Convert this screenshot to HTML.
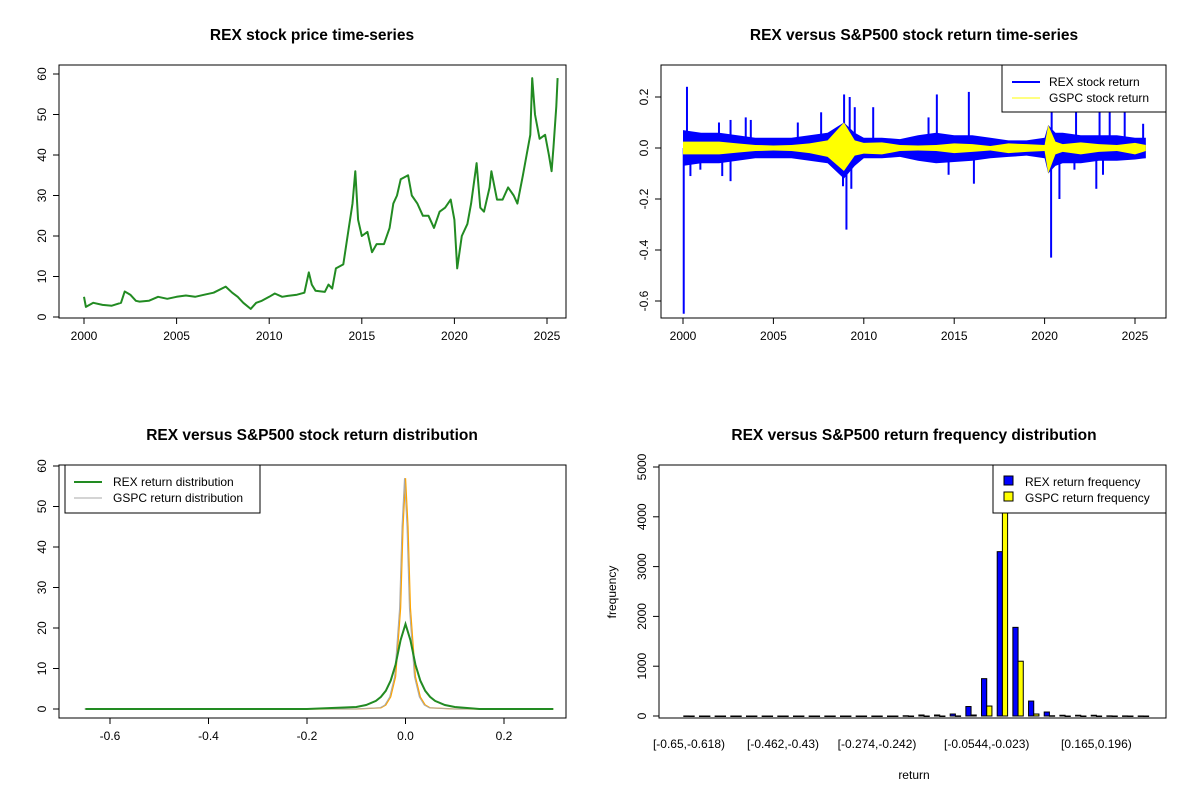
<!DOCTYPE html>
<html><head><meta charset="utf-8"><style>
body{margin:0;background:#fff;}
svg{font-family:"Liberation Sans",Arial,sans-serif;}
.t{font-weight:bold;font-size:15.5px;text-anchor:middle;}
.k{font-size:12px;}
</style></head><body>
<svg id="s" width="1200" height="800" viewBox="0 0 1200 800"></svg>
<script>
// ---- data ----
const priceYears=[2000,2000.1,2000.5,2001,2001.5,2002,2002.2,2002.5,2002.8,2003,2003.5,2004,2004.5,2005,2005.5,2006,2006.5,2007,2007.65,2008,2008.3,2008.6,2009,2009.3,2009.6,2010,2010.3,2010.7,2011,2011.5,2011.9,2012.14,2012.3,2012.5,2013,2013.2,2013.4,2013.6,2014,2014.3,2014.5,2014.65,2014.8,2015,2015.3,2015.55,2015.8,2016.2,2016.5,2016.7,2016.9,2017.1,2017.5,2017.7,2018,2018.3,2018.6,2018.9,2019.2,2019.5,2019.8,2020,2020.15,2020.4,2020.7,2020.9,2021.2,2021.4,2021.6,2021.9,2022,2022.3,2022.6,2022.9,2023.2,2023.4,2023.7,2023.9,2024.1,2024.2,2024.35,2024.6,2024.9,2025.1,2025.25,2025.35,2025.5,2025.57];
const priceValues=[5,2.5,3.5,3,2.8,3.5,6.3,5.5,4,3.8,4,5,4.5,5,5.3,5,5.5,6,7.5,6,5,3.5,2,3.5,4,5,5.8,5,5.2,5.5,6,11,8,6.5,6.2,8,7,12,13,22,28,36,24,20,21,16,18,18,22,28,30,34,35,30,28,25,25,22,26,27,29,24,12,20,23,28,38,27,26,32,36,29,29,32,30,28,35,40,45,59,50,44,45,40,36,42,52,59];
const retYears=[2000,2001,2002,2003,2004,2005,2006,2007,2008,2008.9,2009.5,2010,2011,2012,2013,2014,2015,2016,2017,2018,2019,2020,2020.2,2020.6,2021,2022,2023,2024,2025,2025.6];
const rexHi=[0.07,0.06,0.06,0.05,0.04,0.04,0.04,0.05,0.06,0.1,0.06,0.04,0.04,0.035,0.05,0.06,0.05,0.05,0.04,0.03,0.03,0.04,0.09,0.06,0.06,0.05,0.05,0.05,0.04,0.04];
const rexLo=[-0.07,-0.06,-0.06,-0.05,-0.04,-0.04,-0.04,-0.05,-0.06,-0.12,-0.07,-0.04,-0.04,-0.035,-0.05,-0.06,-0.055,-0.05,-0.04,-0.035,-0.03,-0.04,-0.1,-0.07,-0.06,-0.06,-0.05,-0.05,-0.045,-0.04];
const gspcHi=[0.025,0.025,0.025,0.018,0.012,0.01,0.012,0.018,0.03,0.1,0.03,0.02,0.022,0.012,0.01,0.012,0.018,0.015,0.008,0.018,0.015,0.012,0.09,0.025,0.015,0.022,0.015,0.012,0.02,0.012];
const gspcLo=[-0.025,-0.025,-0.025,-0.018,-0.012,-0.01,-0.012,-0.02,-0.035,-0.09,-0.03,-0.022,-0.025,-0.012,-0.01,-0.012,-0.02,-0.015,-0.01,-0.02,-0.015,-0.012,-0.1,-0.025,-0.015,-0.025,-0.015,-0.012,-0.025,-0.012];
const spikeYears=[2000.22,2001.99,2002.63,2003.47,2003.75,2006.35,2007.64,2008.91,2009.22,2009.5,2010.52,2013.58,2014.04,2015.81,2020.39,2021.74,2023.04,2023.6,2024.43,2025.45,2000.04,2000.41,2000.96,2002.17,2002.63,2008.85,2009.04,2009.31,2014.69,2016.09,2020.36,2020.82,2021.65,2022.86,2023.23];
const spikeValues=[0.24,0.1,0.11,0.12,0.11,0.1,0.14,0.21,0.2,0.16,0.16,0.12,0.21,0.22,0.19,0.14,0.14,0.14,0.18,0.095,-0.65,-0.11,-0.085,-0.11,-0.13,-0.15,-0.32,-0.16,-0.105,-0.14,-0.43,-0.2,-0.085,-0.16,-0.105];
const denX=[-0.65,-0.2,-0.1,-0.08,-0.06,-0.05,-0.04,-0.03,-0.02,-0.01,0,0.01,0.02,0.03,0.04,0.05,0.06,0.08,0.1,0.15,0.3];
const rexDen=[0,0,0.5,1,2,3,4.5,7,11,17,21,17,11,7,4.5,3,2,1,0.5,0,0];
const gDenX=[-0.65,-0.1,-0.05,-0.04,-0.03,-0.02,-0.01,-0.005,0,0.005,0.01,0.02,0.03,0.04,0.05,0.1,0.3];
const gspcDen=[0,0,0.3,1,3,8,25,45,57,45,25,8,3,1,0.3,0,0];
const rexFreq=[1,0,0,0,0,0,0,0,0,0,0,0,0,0,5,20,20,40,190,750,3300,1780,300,80,15,15,15,3,2,1];
const gspcFreq=[0,0,0,0,0,0,0,0,0,0,0,0,0,0,0,0,0,2,20,200,4700,1100,40,5,0,0,0,0,0,0];
const binLabelIdx=[0,6,12,19,26];
const binLabels=["[-0.65,-0.618)","[-0.462,-0.43)","[-0.274,-0.242)","[-0.0544,-0.023)","[0.165,0.196)"];
const yearTicks=[2000,2005,2010,2015,2020,2025];

// ---- helpers ----
const S=document.getElementById('s');const NS='http://www.w3.org/2000/svg';
function el(tag,a,txt){const e=document.createElementNS(NS,tag);for(const k in a)e.setAttribute(k,a[k]);if(txt!==undefined)e.textContent=txt;S.appendChild(e);return e;}
function box(L,T,R,B,name){const e=el('rect',{x:L,y:T,width:R-L,height:B-T,fill:'none',stroke:'#000','stroke-width':1});}
function xTicks(vals,fx,B,labels,name){vals.forEach((v,i)=>{const x=fx(v);const l=el('line',{x1:x,x2:x,y1:B,y2:B+6,stroke:'#000'});const t=el('text',{x:x,y:B+22,'text-anchor':'middle',class:'k'},labels?labels[i]:v);});
 el('line',{x1:fx(vals[0]),x2:fx(vals[vals.length-1]),y1:B,y2:B,stroke:'#000'});}
function yTicks(vals,fy,L,labels,name){vals.forEach((v,i)=>{const y=fy(v);const l=el('line',{x1:L-6,x2:L,y1:y,y2:y,stroke:'#000'});const t=el('text',{x:L-13,y:y,'text-anchor':'middle',class:'k',transform:`rotate(-90 ${L-13} ${y})`},labels?labels[i]:v);});
 el('line',{x1:L,x2:L,y1:fy(vals[0]),y2:fy(vals[vals.length-1]),stroke:'#000'});}
function title(x,y,s,name){const t=el('text',{x:x,y:y,class:'t'},s);}
function path(xs,ys,fx,fy,attrs,name){const d=xs.map((v,i)=>(i?'L':'M')+fx(v).toFixed(1)+','+fy(ys[i]).toFixed(1)).join('');const p=el('path',Object.assign({d:d,fill:'none'},attrs));return p;}

// ---- panel 1: price ----
{const fx=y=>84+(y-2000)*18.52, fy=v=>317-v*4.05;
title(312,40,'REX stock price time-series','price-chart-title');
path(priceYears,priceValues,fx,fy,{stroke:'#228B22','stroke-width':2,'stroke-linejoin':'round'},'price-line');
box(59,65,566,318,'price-plot-box');
xTicks(yearTicks,fx,318,null,'price-x');
yTicks([0,10,20,30,40,50,60],fy,59,null,'price-y');}

// ---- panel 2: returns ----
{const fx=y=>683+(y-2000)*18.08, fy=v=>148-v*255;
title(914,40,'REX versus S&P500 stock return time-series','return-chart-title');
function band(hi,lo,col,name){const up=retYears.map((y,i)=>fx(y)+','+fy(hi[i])).join(' ');const dn=retYears.map((y,i)=>fx(y)+','+fy(lo[i])).reverse().join(' ');const p=el('polygon',{points:up+' '+dn,fill:col});}
band(rexHi,rexLo,'#0000ff','rex-return-band');
spikeYears.forEach((y,i)=>{const l=el('line',{x1:fx(y),x2:fx(y),y1:fy(0),y2:fy(spikeValues[i]),stroke:'#0000ff','stroke-width':2});});
band(gspcHi,gspcLo,'#ffff00','gspc-return-band');
box(661,65,1166,318,'return-plot-box');
xTicks(yearTicks,fx,318,null,'return-x');
yTicks([-0.6,-0.4,-0.2,0,0.2],fy,661,['-0.6','-0.4','-0.2','0.0','0.2'],'return-y');
const lg=el('rect',{x:1002,y:65,width:164,height:47,fill:'#fff',stroke:'#000'});
el('line',{x1:1012,x2:1040,y1:82,y2:82,stroke:'#0000ff','stroke-width':2});
el('line',{x1:1012,x2:1040,y1:98,y2:98,stroke:'#ffff00','stroke-width':1});
const a=el('text',{x:1049,y:86,class:'k'},'REX stock return');
const b=el('text',{x:1049,y:102,class:'k'},'GSPC stock return');}

// ---- panel 3: density ----
{const fx=v=>405.5+v*492.5, fy=v=>709-v*4.05;
title(312,440,'REX versus S&P500 stock return distribution','density-chart-title');
path(gDenX,gspcDen,fx,fy,{stroke:'#ffa500','stroke-width':1.3},'gspc-density-orange');
path(gDenX,gspcDen,v=>fx(v)-1,fy,{stroke:'#aaaaaa','stroke-width':1},'gspc-density-grey');
path(denX,rexDen,fx,fy,{stroke:'#228B22','stroke-width':2},'rex-density');
box(59,465,566,718,'density-plot-box');
xTicks([-0.6,-0.4,-0.2,0,0.2],fx,718,['-0.6','-0.4','-0.2','0.0','0.2'],'density-x');
yTicks([0,10,20,30,40,50,60],fy,59,null,'density-y');
const lg=el('rect',{x:65,y:465,width:195,height:48,fill:'#fff',stroke:'#000'});
el('line',{x1:74,x2:102,y1:482,y2:482,stroke:'#228B22','stroke-width':2});
el('line',{x1:74,x2:102,y1:498,y2:498,stroke:'#aaaaaa','stroke-width':1});
const a=el('text',{x:113,y:486,class:'k'},'REX return distribution');
const b=el('text',{x:113,y:502,class:'k'},'GSPC return distribution');}

// ---- panel 4: histogram ----
{const fy=v=>716-v*0.0498, cx=k=>689+k*15.67, bw=5.2;
title(914,440,'REX versus S&P500 return frequency distribution','frequency-chart-title');
rexFreq.forEach((v,k)=>{const r=el('rect',{x:cx(k)-bw,y:fy(v),width:bw,height:Math.max(0.5,fy(0)-fy(v)),fill:'#0000ff',stroke:'#000','stroke-width':1});});
gspcFreq.forEach((v,k)=>{const r=el('rect',{x:cx(k),y:fy(v),width:bw,height:Math.max(0.5,fy(0)-fy(v)),fill:'#ffff00',stroke:'#000','stroke-width':1});});
box(659,465,1166,718,'frequency-plot-box');
binLabelIdx.forEach((k,i)=>{const t=el('text',{x:cx(k),y:748,'text-anchor':'middle',class:'k'},binLabels[i]);});
yTicks([0,1000,2000,3000,4000,5000],fy,659,null,'frequency-y');
const xt=el('text',{x:914,y:779,'text-anchor':'middle',class:'k'},'return');
const yt=el('text',{x:616,y:592,'text-anchor':'middle',class:'k',transform:'rotate(-90 616 592)'},'frequency');
const lg=el('rect',{x:993,y:465,width:173,height:48,fill:'#fff',stroke:'#000'});
el('rect',{x:1004,y:476,width:9,height:9,fill:'#0000ff',stroke:'#000'});
el('rect',{x:1004,y:492,width:9,height:9,fill:'#ffff00',stroke:'#000'});
const a=el('text',{x:1025,y:486,class:'k'},'REX return frequency');
const b=el('text',{x:1025,y:502,class:'k'},'GSPC return frequency');}
</script>
</body></html>
